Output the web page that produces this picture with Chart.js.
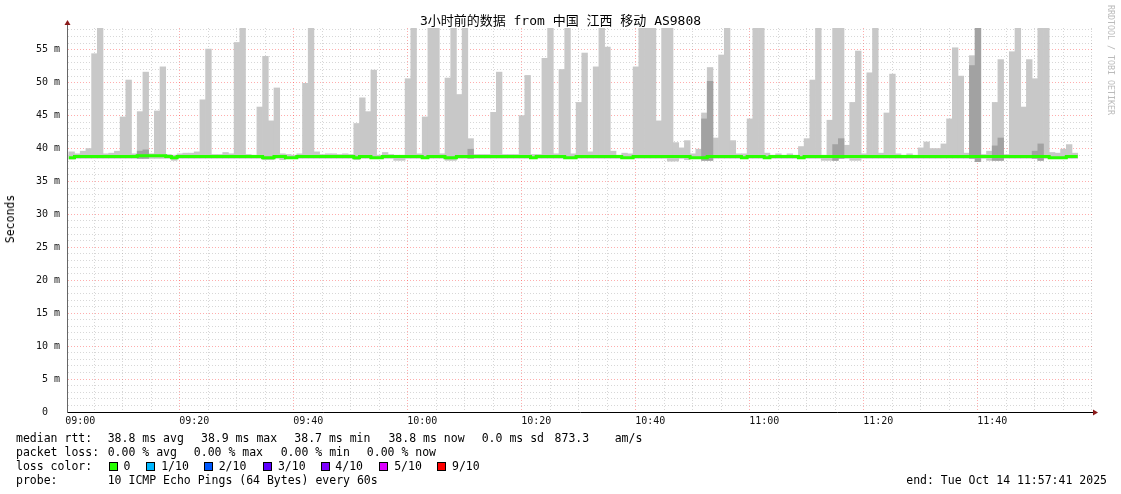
<!DOCTYPE html>
<html lang="zh-CN">
<head>
<meta charset="UTF-8">
<title>SmokePing - 3小时前的数据</title>
<script src="https://cdn.jsdelivr.net/npm/chart.js"></script>
<style>
  body { margin: 0; background: #fff; }
  #wrap { position: relative; width: 1121px; height: 494px; font-family: 'DejaVu Sans Mono', 'Noto Sans CJK SC', monospace; color: #000; }
  #c { position: absolute; left: 0; top: 0; }
  .t { position: absolute; white-space: pre; font-size: 11.5px; line-height: 14px; }
  .box { position: absolute; width: 7px; height: 7px; border: 1px solid #000; }
  #title { position: absolute; left: 0; width: 1121px; top: 13px; text-align: center; font-size: 13px; line-height: 16px; white-space: pre; }
  #ylab { position: absolute; left: 10px; top: 219px; transform: translate(-50%, -50%) rotate(-90deg); font-size: 11.5px; white-space: pre; }
  #rrd { position: absolute; left: 1106px; top: 5px; writing-mode: vertical-rl; font-size: 8.3px; color: #bbb; white-space: pre; }
</style>
</head>
<body>
<div id="wrap">
  <canvas id="c" width="1121" height="494"></canvas>
  <div id="title">3小时前的数据 from 中国 江西 移动 AS9808</div>
  <div id="ylab">Seconds</div>
  <div id="rrd">RRDTOOL / TOBI OETIKER</div>

  <div class="t" style="left:16px;top:431px">median rtt:</div>
  <div class="t" style="left:107.7px;top:431px">38.8 ms avg</div>
  <div class="t" style="left:201px;top:431px">38.9 ms max</div>
  <div class="t" style="left:294.3px;top:431px">38.7 ms min</div>
  <div class="t" style="left:388.4px;top:431px">38.8 ms now</div>
  <div class="t" style="left:481.7px;top:431px">0.0 ms sd</div>
  <div class="t" style="left:554.6px;top:431px">873.3</div>
  <div class="t" style="left:614.7px;top:431px">am/s</div>

  <div class="t" style="left:16px;top:445px">packet loss:</div>
  <div class="t" style="left:107.7px;top:445px">0.00 % avg</div>
  <div class="t" style="left:193.8px;top:445px">0.00 % max</div>
  <div class="t" style="left:280.7px;top:445px">0.00 % min</div>
  <div class="t" style="left:366.8px;top:445px">0.00 % now</div>

  <div class="t" style="left:16px;top:459px">loss color:</div>
  <div id="loss"></div>

  <div class="t" style="left:16px;top:473px">probe:</div>
  <div class="t" style="left:107.7px;top:473px">10 ICMP Echo Pings (64 Bytes) every 60s</div>
  <div class="t" style="right:14px;top:473px">end: Tue Oct 14 11:57:41 2025</div>
</div>

<script>
// minutes relative to 09:00; first full bar is 08:58
const firstBar = -2;
const axisStart = -2.3167;   // 08:57:41
const axisEnd = 177.6833;    // 11:57:41

const xLabels = ['09:00', '09:20', '09:40', '10:00', '10:20', '10:40', '11:00', '11:20', '11:40'];
const yLabels = ['0  ', '5 m', '10 m', '15 m', '20 m', '25 m', '30 m', '35 m', '40 m', '45 m', '50 m', '55 m'];

// highest ping of each minute (ms)
const smokeTop = [
  39.5, 39.2, 39.6, 40.0, 54.4, 58.3, 39.2, 39.3, 39.6, 44.8,
  50.4, 39.2, 45.6, 51.6, 39.2, 45.7, 52.4, 39.1, 39.0, 39.2,
  39.3, 39.3, 39.5, 47.4, 55.1, 39.1, 39.1, 39.4, 39.2, 56.1,
  58.3, 39.1, 39.0, 46.3, 54.0, 44.2, 49.2, 39.2, 39.1, 39.0,
  39.2, 49.9, 58.3, 39.5, 39.1, 39.2, 39.2, 39.1, 39.2, 39.1,
  43.8, 47.7, 45.6, 51.9, 39.0, 39.4, 39.1, 39.0, 39.0, 50.6,
  58.3, 39.2, 44.8, 58.3, 58.3, 39.2, 50.7, 58.3, 48.2, 58.3,
  41.5, 39.1, 39.1, 39.1, 45.5, 51.6, 39.1, 39.1, 39.1, 45.0,
  51.1, 39.1, 39.1, 53.7, 58.3, 39.2, 52.0, 58.3, 39.2, 47.0,
  54.5, 39.5, 52.4, 58.3, 55.4, 39.6, 39.0, 39.3, 39.2, 52.4,
  58.3, 58.3, 58.3, 44.2, 58.3, 58.3, 40.9, 40.1, 41.2, 39.2,
  39.9, 45.4, 52.3, 41.6, 54.2, 58.3, 41.2, 39.2, 39.2, 44.5,
  58.3, 58.3, 39.3, 39.0, 39.2, 39.0, 39.2, 39.0, 40.3, 41.5,
  50.4, 58.3, 39.0, 44.3, 58.3, 58.3, 40.5, 47.0, 54.8, 39.2,
  51.5, 58.3, 39.3, 45.4, 51.3, 39.2, 39.0, 39.2, 39.0, 40.1,
  41.0, 40.0, 40.0, 40.7, 44.5, 55.3, 51.0, 39.3, 54.1, 58.3,
  39.1, 39.6, 47.0, 53.5, 39.1, 54.7, 58.3, 46.3, 53.5, 50.6,
  58.3, 58.3, 39.4, 39.3, 39.9, 40.6, 39.3
];

// lowest ping of each minute (ms)
const smokeBottom = [
  38.4, 38.5, 38.5, 38.5, 38.5, 38.5, 38.5, 38.5, 38.5, 38.5,
  38.5, 38.5, 38.5, 38.5, 38.5, 38.5, 38.5, 38.5, 38.2, 38.5,
  38.5, 38.5, 38.5, 38.5, 38.5, 38.5, 38.5, 38.5, 38.5, 38.5,
  38.5, 38.5, 38.5, 38.5, 38.3, 38.3, 38.5, 38.3, 38.5, 38.5,
  38.5, 38.5, 38.5, 38.5, 38.5, 38.5, 38.5, 38.5, 38.5, 38.5,
  38.3, 38.5, 38.5, 38.5, 38.5, 38.5, 38.5, 38.2, 38.2, 38.5,
  38.5, 38.5, 38.5, 38.5, 38.5, 38.5, 38.2, 38.2, 38.5, 38.5,
  38.5, 38.5, 38.5, 38.5, 38.5, 38.5, 38.5, 38.5, 38.5, 38.5,
  38.5, 38.5, 38.5, 38.5, 38.5, 38.5, 38.5, 38.5, 38.5, 38.5,
  38.5, 38.5, 38.5, 38.5, 38.5, 38.5, 38.5, 38.5, 38.5, 38.5,
  38.5, 38.5, 38.5, 38.5, 38.5, 38.1, 38.1, 38.5, 38.3, 38.5,
  38.5, 38.2, 38.2, 38.5, 38.5, 38.5, 38.5, 38.5, 38.5, 38.5,
  38.5, 38.5, 38.5, 38.5, 38.5, 38.5, 38.5, 38.5, 38.5, 38.5,
  38.5, 38.5, 38.2, 38.2, 38.2, 38.5, 38.5, 38.2, 38.2, 38.5,
  38.5, 38.5, 38.5, 38.5, 38.5, 38.5, 38.5, 38.5, 38.5, 38.5,
  38.5, 38.5, 38.5, 38.5, 38.5, 38.5, 38.5, 38.5, 38.5, 38.0,
  38.5, 38.2, 38.2, 38.2, 38.5, 38.5, 38.5, 38.5, 38.5, 38.5,
  38.2, 38.5, 38.5, 38.5, 38.5, 38.5, 38.5
];

// denser part of the smoke (ms), null where it hugs the median
const smokeDark = [
  null, null, null, null, null, null, null, null, null, null,
  null, null, 39.6, 39.8, null, null, null, null, null, null,
  null, null, null, null, null, null, null, null, null, null,
  null, null, null, null, null, null, null, null, null, null,
  null, null, null, null, null, null, null, null, null, null,
  null, null, null, null, null, null, null, null, null, null,
  null, null, null, null, null, null, null, null, null, null,
  39.9, null, null, null, null, null, null, null, null, null,
  null, null, null, null, null, null, null, null, null, null,
  null, null, null, null, null, null, null, null, null, null,
  null, null, null, null, null, null, null, null, null, null,
  null, 44.5, 50.2, null, null, null, null, null, null, null,
  null, null, null, null, null, null, null, null, null, null,
  null, null, null, null, 40.6, 41.5, null, null, null, null,
  null, null, null, null, null, null, null, null, null, null,
  null, null, null, null, null, null, null, null, 52.6, 58.3,
  null, null, 40.4, 41.6, null, null, null, null, null, 39.6,
  40.7, null, null, null, null, null, null
];

// median rtt of each minute (ms)
const median = [
  38.6, 38.8, 38.8, 38.8, 38.8, 38.8, 38.8, 38.8, 38.8, 38.8,
  38.8, 38.8, 38.9, 38.9, 38.9, 38.9, 38.9, 38.8, 38.6, 38.8,
  38.8, 38.8, 38.8, 38.8, 38.8, 38.8, 38.8, 38.8, 38.8, 38.8,
  38.8, 38.8, 38.8, 38.8, 38.6, 38.6, 38.8, 38.8, 38.6, 38.6,
  38.8, 38.8, 38.8, 38.8, 38.8, 38.8, 38.8, 38.8, 38.8, 38.8,
  38.6, 38.8, 38.8, 38.6, 38.6, 38.8, 38.8, 38.8, 38.8, 38.8,
  38.8, 38.8, 38.6, 38.8, 38.8, 38.8, 38.6, 38.6, 38.8, 38.8,
  38.8, 38.8, 38.8, 38.8, 38.8, 38.8, 38.8, 38.8, 38.8, 38.8,
  38.8, 38.6, 38.8, 38.8, 38.8, 38.8, 38.8, 38.6, 38.6, 38.8,
  38.8, 38.8, 38.8, 38.8, 38.8, 38.8, 38.8, 38.6, 38.6, 38.8,
  38.8, 38.8, 38.8, 38.8, 38.8, 38.8, 38.8, 38.8, 38.8, 38.6,
  38.6, 38.6, 38.8, 38.8, 38.8, 38.8, 38.8, 38.8, 38.6, 38.8,
  38.8, 38.8, 38.6, 38.8, 38.8, 38.8, 38.8, 38.8, 38.6, 38.8,
  38.8, 38.8, 38.8, 38.8, 38.8, 38.8, 38.8, 38.8, 38.8, 38.8,
  38.8, 38.8, 38.8, 38.8, 38.8, 38.8, 38.8, 38.8, 38.8, 38.8,
  38.8, 38.8, 38.8, 38.8, 38.8, 38.8, 38.8, 38.8, 38.8, 38.8,
  38.8, 38.8, 38.8, 38.8, 38.8, 38.8, 38.8, 38.8, 38.8, 38.8,
  38.8, 38.8, 38.6, 38.6, 38.6, 38.8, 38.8
];

const lossLabels = ['0', '1/10', '2/10', '3/10', '4/10', '5/10', '9/10'];
const lossColors = ['#26ff00', '#00b8ff', '#0059ff', '#5e00ff', '#7e00ff', '#dd00ff', '#ff0000'];

// legend swatches (rrdtool spacing is not regular)
const lossBoxX = [108.8, 146.4, 203.9, 263.1, 320.5, 379.4, 437.2];
let lossHtml = '';
lossLabels.forEach((lbl, i) => {
    lossHtml += '<div class="box" style="left:' + lossBoxX[i] + 'px;top:462px;background:' + lossColors[i] + '"></div>';
    lossHtml += '<div class="t" style="left:' + (lossBoxX[i] + 14.8) + 'px;top:459px">' + lbl + '</div>';
});
document.getElementById('loss').innerHTML = lossHtml;

const lightData = smokeTop.map((hi, i) => ({ x: firstBar + i + 0.5, y: [smokeBottom[i], hi] }));
const darkData = [];
smokeDark.forEach((hi, i) => {
    if (hi !== null) darkData.push({ x: firstBar + i + 0.5, y: [smokeBottom[i], hi] });
});
const medianData = median.map((v, i) => ({ x: firstBar + i, y: v }));
medianData.push({ x: firstBar + median.length, y: median[median.length - 1] });

const gridGrey = 'rgba(130,130,130,0.32)';
const gridRed = 'rgba(255,0,0,0.32)';
const tickFont = { family: 'DejaVu Sans Mono', size: 10 };

// arrows at the axis ends, like rrdtool
const axisArrows = {
    id: 'axisArrows',
    afterDraw(chart) {
        const ctx = chart.ctx;
        const a = chart.chartArea;
        ctx.save();
        ctx.strokeStyle = '#666';
        ctx.lineWidth = 1;
        ctx.beginPath();
        ctx.moveTo(a.left + 0.5, a.top);
        ctx.lineTo(a.left + 0.5, a.top - 4);
        ctx.stroke();
        ctx.fillStyle = '#8b1a1a';
        ctx.beginPath();
        ctx.moveTo(a.left - 2.5, a.top - 3);
        ctx.lineTo(a.left + 3.5, a.top - 3);
        ctx.lineTo(a.left + 0.5, a.top - 8);
        ctx.closePath();
        ctx.fill();
        ctx.beginPath();
        ctx.moveTo(a.right, a.bottom - 2.5);
        ctx.lineTo(a.right, a.bottom + 3.5);
        ctx.lineTo(a.right + 5, a.bottom + 0.5);
        ctx.closePath();
        ctx.fill();
        ctx.restore();
    }
};

new Chart(document.getElementById('c'), {
    type: 'bar',
    data: {
        datasets: [
            {
                type: 'line',
                label: 'median',
                data: medianData,
                borderColor: '#2aff00',
                borderWidth: 3,
                borderCapStyle: 'butt',
                stepped: 'before',
                pointRadius: 0,
                fill: false,
                order: 0
            },
            {
                label: 'smoke dark',
                data: darkData,
                backgroundColor: '#a2a2a2',
                borderWidth: 0,
                grouped: false,
                barPercentage: 1,
                categoryPercentage: 1,
                order: 1
            },
            {
                label: 'smoke',
                data: lightData,
                backgroundColor: '#c8c8c8',
                borderWidth: 0,
                grouped: false,
                barPercentage: 1,
                categoryPercentage: 1,
                order: 2
            }
        ]
    },
    options: {
        responsive: false,
        animation: false,
        layout: { padding: { left: 0, top: 28, right: 28, bottom: 0 } },
        plugins: {
            legend: { display: false },
            tooltip: { enabled: false }
        },
        scales: {
            x: {
                type: 'linear',
                min: axisStart,
                max: axisEnd,
                offset: false,
                z: 1,
                grid: {
                    drawTicks: false,
                    lineWidth: 1,
                    color: ctx => (ctx.tick && ctx.tick.value % 20 === 0) ? gridRed : gridGrey
                },
                border: { display: true, color: '#000', width: 1, dash: [1, 2] },
                ticks: {
                    autoSkip: false,
                    maxRotation: 0,
                    padding: 3,
                    color: '#111',
                    font: tickFont,
                    callback: v => (v % 20 === 0) ? xLabels[v / 20] : ''
                },
                afterBuildTicks: s => {
                    const t = [];
                    for (let m = 0; m <= 175; m += 5) t.push({ value: m });
                    s.ticks = t;
                },
                afterFit: s => { s.height = 82; }
            },
            y: {
                type: 'linear',
                min: 0,
                max: 58.3,
                z: 1,
                grid: {
                    drawTicks: false,
                    lineWidth: 1,
                    color: ctx => (ctx.tick && ctx.tick.value % 5 === 0) ? gridRed : gridGrey
                },
                border: { display: true, color: '#666', width: 1, dash: [1, 2] },
                ticks: {
                    autoSkip: false,
                    padding: 7,
                    color: '#111',
                    font: tickFont,
                    callback: v => (v % 5 === 0) ? yLabels[v / 5] : ''
                },
                afterBuildTicks: s => {
                    const t = [];
                    for (let v = 0; v <= 58; v++) t.push({ value: v });
                    s.ticks = t;
                },
                afterFit: s => { s.width = 67; }
            }
        }
    },
    plugins: [axisArrows]
});
</script>
</body>
</html>
